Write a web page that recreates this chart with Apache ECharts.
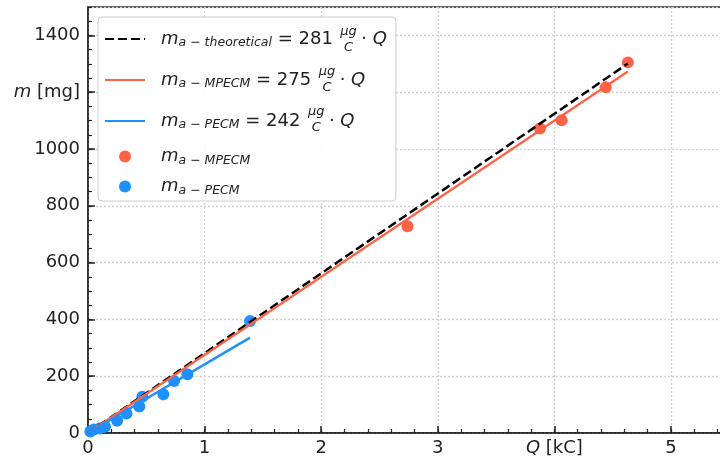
<!DOCTYPE html>
<html>
<head>
<meta charset="utf-8">
<script src="https://cdn.jsdelivr.net/npm/echarts@6/dist/echarts.min.js"></script>
<style>
  html, body { margin: 0; padding: 0; background: #fff; }
  #chart { width: 720px; height: 461px; }
</style>
</head>
<body>
<div id="chart"></div>
<script>
// ---- data (Q in kC, m in mg) ----
const pecmQ = [0.02, 0.05, 0.10, 0.146, 0.25, 0.33, 0.44, 0.466, 0.646, 0.738, 0.852, 1.39];
const pecmM = [5, 12, 16, 22, 43, 69, 93, 128, 136, 183, 207, 394];
const mpecmQ = [2.74, 3.876, 4.062, 4.44, 4.63];
const mpecmM = [728, 1072, 1101, 1217, 1305];

// fitted lines (end points)
const theoQ = [0, 4.63];
const theoM = [0, 1301];
const mpecmFitQ = [0, 4.63];
const mpecmFitM = [0, 1273];
const pecmFitQ = [0, 1.39];
const pecmFitM = [0, 336];

const xTicks = [0, 1, 2, 3, 4, 5];
const yTicks = [0, 200, 400, 600, 800, 1000, 1200, 1400];

const FONT = 'DejaVu Sans';
const INK = '#222';
const RED = '#ff6347';
const BLUE = '#1e90ff';

const pairs = (xs, ys) => xs.map((x, i) => [x, ys[i]]);

// legend rows: subscript, coefficient
const legendRows = [
  { name: 'theo', sub: 'a − theoretical', coef: 281, line: true },
  { name: 'mfit', sub: 'a − MPECM', coef: 275, line: true },
  { name: 'pfit', sub: 'a − PECM', coef: 242, line: true },
  { name: 'mpt', sub: 'a − MPECM' },
  { name: 'ppt', sub: 'a − PECM' }
];

const FRAC_W = 17;
const SUB_FONT = 12.5;
function legendFmt(name) {
  const r = legendRows.find(d => d.name === name);
  if (r.coef === undefined) return '{m|m}{s|' + r.sub + '}';
  return '{m|m}{s|' + r.sub + '}{t| = ' + r.coef + ' }{f| }{t| · }{q|Q}';
}

// fraction µg/C drawn next to the legend text
const ctx = document.createElement('canvas').getContext('2d');
function tw(txt, font) { ctx.font = font; return ctx.measureText(txt).width; }
const LEG_LEFT = 98, LEG_TOP = 17, PAD = [6, 9, 4, 6], ICON_W = 40, M_PAD = 11;
const textX0 = LEG_LEFT + PAD[3] + ICON_W + 5 + M_PAD;
const rowY = [38.5, 78.5, 118.5];
const fracs = [];
legendRows.slice(0, 3).forEach((r, i) => {
  const x = textX0
    + tw('m', 'italic 18px "' + FONT + '"')
    + tw(r.sub, 'italic ' + SUB_FONT + 'px "' + FONT + '"')
    + tw(' = ' + r.coef + ' ', '18px "' + FONT + '"')
    + 11;
  fracs.push({ type: 'text', z: 100, silent: true,
    style: { text: 'μg', x: x, y: rowY[i] - 7, align: 'center', verticalAlign: 'middle',
      font: 'italic 13px "' + FONT + '"', fill: INK } });
  fracs.push({ type: 'text', z: 100, silent: true,
    style: { text: 'C', x: x, y: rowY[i] + 9, align: 'center', verticalAlign: 'middle',
      font: 'italic 13px "' + FONT + '"', fill: INK } });
});

const chart = echarts.init(document.getElementById('chart'));

const labelStyle = { fontSize: 18, fontFamily: FONT, color: INK };
const italicRich = { i: { fontSize: 18, fontFamily: FONT, fontStyle: 'italic', color: INK } };

chart.setOption({
  animation: false,
  grid: {
    left: 88, top: 7, width: 641.3, height: 426,
    show: true, borderColor: INK, borderWidth: 1.5, backgroundColor: 'transparent',
    containLabel: false, outerBoundsMode: 'none'
  },
  legend: {
    orient: 'vertical', left: LEG_LEFT, top: LEG_TOP, padding: PAD,
    itemWidth: ICON_W, itemHeight: 12, itemGap: 9,
    backgroundColor: 'rgba(255,255,255,0.9)', borderColor: '#cccccc', borderWidth: 1, borderRadius: 4,
    selectedMode: false,
    data: legendRows.map(r => (r.line ? { name: r.name, itemStyle: { opacity: 0 } } : { name: r.name })),
    formatter: legendFmt,
    textStyle: {
      color: INK, fontFamily: FONT,
      rich: {
        m: { fontSize: 18, fontStyle: 'italic', fontFamily: FONT, color: INK, padding: [0, 0, 0, M_PAD] },
        s: { fontSize: SUB_FONT, fontStyle: 'italic', fontFamily: FONT, color: INK, lineHeight: 12, padding: [8, 0, 0, 0] },
        t: { fontSize: 18, fontFamily: FONT, color: INK },
        q: { fontSize: 18, fontStyle: 'italic', fontFamily: FONT, color: INK },
        f: { fontSize: 18, width: FRAC_W, padding: [7, 0, 7, 0], backgroundColor: 'rgba(255,255,255,0)' }
      }
    }
  },
  xAxis: [{
    type: 'value', min: 0, max: 5.5, interval: 1,
    axisLine: { show: true, lineStyle: { color: INK, width: 1.5 } },
    axisTick: { show: true, inside: true, length: 7, lineStyle: { color: INK, width: 1.5 } },
    axisLabel: Object.assign({}, labelStyle, {
      margin: 6, showMaxLabel: false, rich: italicRich,
      formatter: v => (v === 4 ? '{i|Q} [kC]' : xTicks.includes(v) ? String(v) : '')
    }),
    splitLine: { show: true, lineStyle: { color: '#cfcfcf', width: 1.4, type: [2, 2] } }
  }, {
    type: 'value', min: 0, max: 5.5, interval: 0.2, position: 'bottom',
    axisLine: { show: false },
    axisTick: { show: true, inside: true, length: 4, lineStyle: { color: INK, width: 1.2 } },
    axisLabel: { show: false }, splitLine: { show: false }
  }],
  yAxis: [{
    type: 'value', min: 0, max: 1500, interval: 200,
    axisLine: { show: true, lineStyle: { color: INK, width: 1.5 } },
    axisTick: { show: true, inside: true, length: 7, lineStyle: { color: INK, width: 1.5 } },
    axisLabel: Object.assign({}, labelStyle, {
      margin: 8, showMaxLabel: false, rich: italicRich,
      formatter: v => (v === 1200 ? '{i|m} [mg]' : yTicks.includes(v) ? String(v) : '')
    }),
    splitLine: { show: true, lineStyle: { color: '#cfcfcf', width: 1.4, type: [2, 2] } }
  }, {
    type: 'value', min: 0, max: 1500, interval: 50, position: 'left',
    axisLine: { show: false },
    axisTick: { show: true, inside: true, length: 4, lineStyle: { color: INK, width: 1.2 } },
    axisLabel: { show: false }, splitLine: { show: false }
  }],
  graphic: fracs,
  series: [
    { name: 'theo', type: 'line', data: pairs(theoQ, theoM), symbol: 'none', silent: true,
      lineStyle: { color: '#000', width: 2.5, type: [9, 4] }, itemStyle: { color: '#000' } },
    { name: 'mfit', type: 'line', data: pairs(mpecmFitQ, mpecmFitM), symbol: 'none', silent: true,
      lineStyle: { color: RED, width: 2.2 }, itemStyle: { color: RED } },
    { name: 'pfit', type: 'line', data: pairs(pecmFitQ, pecmFitM), symbol: 'none', silent: true,
      lineStyle: { color: BLUE, width: 2.5 }, itemStyle: { color: BLUE } },
    { name: 'mpt', type: 'scatter', data: pairs(mpecmQ, mpecmM), symbolSize: 12, silent: true,
      itemStyle: { color: RED, opacity: 1 } },
    { name: 'ppt', type: 'scatter', data: pairs(pecmQ, pecmM), symbolSize: 12, silent: true,
      itemStyle: { color: BLUE, opacity: 1 } }
  ]
});
</script>
</body>
</html>
